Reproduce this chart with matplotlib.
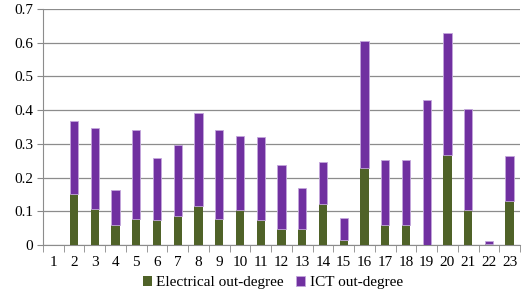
import matplotlib
matplotlib.use('Agg')
from matplotlib import pyplot
import numpy

categories = [str(i) for i in range(1, 24)]
electrical = [0, 0.152, 0.106, 0.060, 0.076, 0.074, 0.086, 0.116, 0.076, 0.105, 0.074,
              0.047, 0.047, 0.123, 0.016, 0.228, 0.060, 0.060, 0.0, 0.268, 0.105, 0.003, 0.130]
total = [0, 0.367, 0.346, 0.162, 0.340, 0.257, 0.298, 0.391, 0.340, 0.324, 0.320,
         0.237, 0.170, 0.247, 0.079, 0.604, 0.252, 0.252, 0.431, 0.628, 0.402, 0.011, 0.264]
ict = [t - e for t, e in zip(total, electrical)]

pyplot.rcParams['font.family'] = ['Liberation Serif', 'DejaVu Serif']

fig = pyplot.figure(figsize=(5.22, 2.92), dpi=100)
ax = fig.add_axes([43/522, 1 - 245/292, 477/522, 236/292])

x = numpy.arange(1, len(categories) + 1)
ax.bar(x, electrical, width=0.4, color='#4f6228', label='Electrical out-degree', zorder=3)
ax.bar(x, ict, width=0.4, bottom=electrical, color='#7030a0', edgecolor='#c3a6dc',
       linewidth=0.6, label='ICT out-degree', zorder=3)

ax.set_xlim(0.5, len(categories) + 0.5)
ax.set_ylim(0, 0.7)
ax.set_yticks(numpy.arange(0, 0.71, 0.1))
ax.set_yticklabels(['0', '0.1', '0.2', '0.3', '0.4', '0.5', '0.6', '0.7'])
ax.set_xticks(x)
ax.set_xticklabels(categories)
ax.set_xticks(numpy.arange(0.5, len(categories) + 1, 1), minor=True)
ax.tick_params(axis='x', which='major', length=0, pad=8, labelsize=11)
ax.tick_params(axis='x', which='minor', length=5, color='#888888', direction='out')
ax.tick_params(axis='y', length=4, color='#888888', labelsize=11, pad=3)

ax.grid(axis='y', color='#8c8c8c', linewidth=0.9, zorder=0)
for s in ['top', 'right']:
    ax.spines[s].set_visible(False)
ax.spines['left'].set_color('#8c8c8c')
ax.spines['bottom'].set_color('#8c8c8c')

ax.legend(loc='center', bbox_to_anchor=(0.482, -0.16), ncol=2, frameon=False,
          fontsize=11, handlelength=0.6, handleheight=0.6, handletextpad=0.3,
          columnspacing=0.8, borderpad=0, borderaxespad=0)

fig.savefig('out.png', dpi=100)
